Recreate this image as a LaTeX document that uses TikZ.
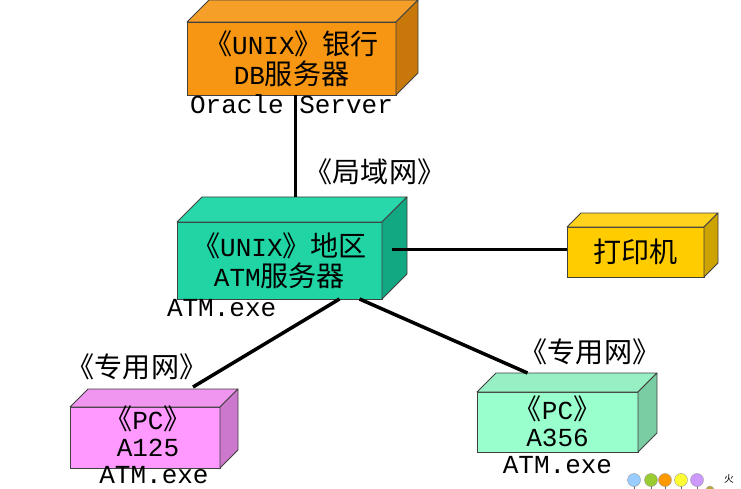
\documentclass[tikz,border=0pt]{standalone}
\usepackage{fontspec}
\setmainfont{Liberation Mono}
\newfontfamily\cjk[Scale=1.08]{Noto Sans CJK SC}
\newcommand\zh[1]{{\cjk #1}}
\usetikzlibrary{positioning}

\definecolor{dbfront}{RGB}{247,150,18}
\definecolor{dbtop}{RGB}{245,158,40}
\definecolor{dbside}{RGB}{200,120,10}
\definecolor{atmfront}{RGB}{32,212,164}
\definecolor{atmtop}{RGB}{40,216,170}
\definecolor{atmside}{RGB}{18,168,130}
\definecolor{prnfront}{RGB}{255,204,0}
\definecolor{prntop}{RGB}{255,210,30}
\definecolor{prnside}{RGB}{204,163,0}
\definecolor{pcafront}{RGB}{255,153,255}
\definecolor{pcatop}{RGB}{240,150,240}
\definecolor{pcaside}{RGB}{204,120,204}
\definecolor{pcbfront}{RGB}{153,255,204}
\definecolor{pcbtop}{RGB}{150,240,195}
\definecolor{pcbside}{RGB}{122,204,163}
\definecolor{wmA}{RGB}{153,204,255}
\definecolor{wmB}{RGB}{153,204,51}
\definecolor{wmC}{RGB}{255,153,0}
\definecolor{wmD}{RGB}{255,255,51}
\definecolor{wmE}{RGB}{204,153,255}
\definecolor{wmF}{RGB}{190,170,60}

\tikzset{
  box/.style={draw=black!75, line width=0.8pt, inner sep=0pt, outer sep=0pt,
    align=center, font=\fontsize{26}{30}\selectfont},
  face/.style={draw=black!75, line width=0.8pt, line join=round},
  lbl/.style={inner sep=0pt, outer sep=0pt, align=center, font=\fontsize{26}{27}\selectfont},
  link/.style={line width=3.5pt}
}

\begin{document}
\begin{tikzpicture}[x=1pt,y=-1pt]
\fill[white] (0,0) rectangle (741,489);
\useasboundingbox (0,0) rectangle (741,489);

% front faces
\node[box, fill=dbfront, minimum width=209, minimum height=73] (db) at (291.5,58.5)
  {\zh{《}UNIX\zh{》银行}\\DB\zh{服务器}};
\node[box, fill=atmfront, minimum width=205, minimum height=77] (atm) at (279.5,260.5)
  {\zh{《}UNIX\zh{》地区}\\ATM\zh{服务器}};
\node[box, fill=prnfront, minimum width=137, minimum height=50] (prn) at (635.5,252)
  {\zh{打印机}};
\node[box, fill=pcafront, minimum width=150, minimum height=61] (pca) at (145,437.5) {};
\node[box, fill=pcbfront, minimum width=161, minimum height=60] (pcb) at (557.5,422) {};

% top and side faces
\foreach \n/\d/\ct/\cs in {db/22/dbtop/dbside, atm/25/atmtop/atmside,
    prn/14/prntop/prnside, pca/18/pcatop/pcaside, pcb/19/pcbtop/pcbside}{
  \filldraw[face, fill=\ct] (\n.north west) -- ++(\d,-\d)
    -- ([shift={(\d,-\d)}]\n.north east) -- (\n.north east) -- cycle;
  \filldraw[face, fill=\cs] (\n.north east) -- ([shift={(\d,-\d)}]\n.north east)
    -- ([shift={(\d,-\d)}]\n.south east) -- (\n.south east) -- cycle;
}

% texts
\node[lbl, below=0pt of db] (dbl) {Oracle Server};
\node[lbl] (lan) at (375,172) {\zh{《局域网》}};
\node[lbl, below right=0pt and -10pt of atm.south west] (atml) {ATM.exe};
\node[lbl] (pcal) at ([xshift=3pt,yshift=-7.5pt]pca.center)
  {\zh{《}PC\zh{》}\\A125\\\hspace*{12pt}ATM.exe};
\node[lbl] (pcbl) at ([yshift=-13pt]pcb.center)
  {\zh{《}PC\zh{》}\\A356\\ATM.exe};
\node[lbl] (neta) at (137,367) {\zh{《专用网》}};
\node[lbl] (netb) at (590,352) {\zh{《专用网》}};

% connectors
\coordinate (dbS) at ([xshift=4pt]db.south);
\coordinate (atmT) at ([yshift=25pt]atm.north);
\coordinate (atmR) at ([shift={(10,-11)}]atm.east);
\draw[link] (dbS) -- (dbS |- atmT);
\draw[link] (atmR) -- (atmR -| prn.west);
\draw[link] ([xshift=60pt]atm.south) -- ([shift={(48,-20)}]pca.north);
\draw[link] ([xshift=80pt]atm.south) -- ([shift={(-30,-19)}]pcb.north);

% logo in the corner
\foreach \x/\c in {634/wmA,651/wmB,665/wmC,681/wmD,697/wmE}{
  \draw[black!60, line width=0.5pt] (\x,486) -- (\x,492);
  \filldraw[fill=\c, draw=black!40, line width=0.4pt] (\x,480) circle (6.5);
}
\filldraw[fill=wmF, draw=black!40, line width=0.4pt] (710,490) circle (4);
\node[inner sep=0pt, font=\cjk\fontsize{9}{9}\selectfont] (wmt) at (729,479) {火};
\end{tikzpicture}
\end{document}
